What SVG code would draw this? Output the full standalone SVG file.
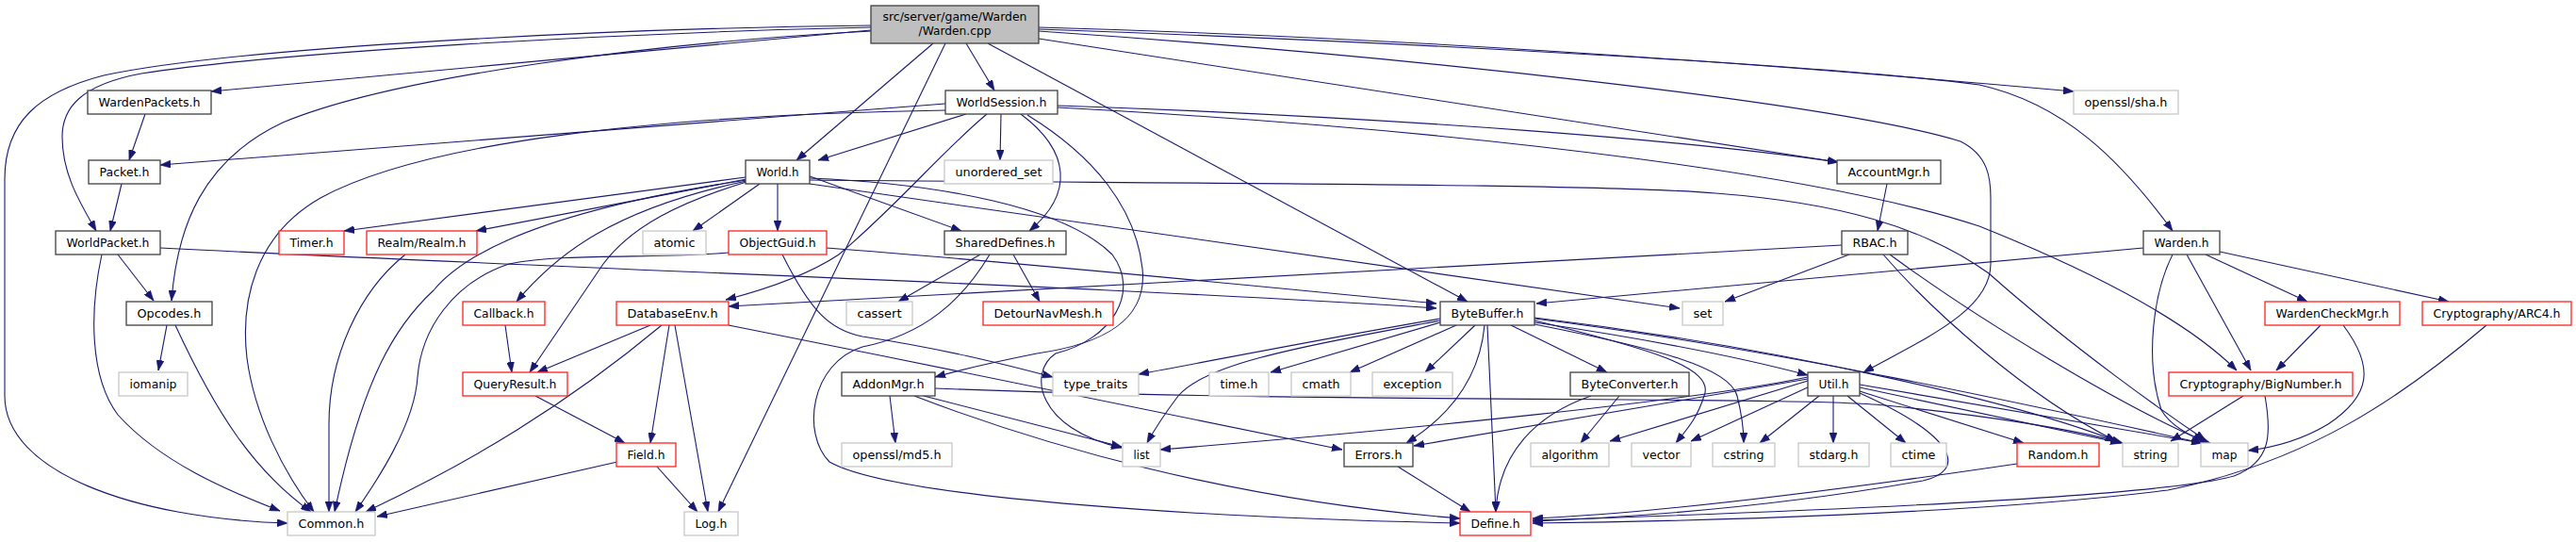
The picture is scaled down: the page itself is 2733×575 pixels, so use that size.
<svg xmlns="http://www.w3.org/2000/svg" width="2733" height="575" viewBox="0 0 2733 575">
<defs>
<marker id="a" viewBox="0 0 11 8" refX="11" refY="4" markerWidth="11" markerHeight="8" markerUnits="userSpaceOnUse" orient="auto">
<path d="M0,0 L11,4 L0,8 z" fill="#191970" stroke="#191970" stroke-width="0.6"/>
</marker>
</defs>
<style>
.e{fill:none;stroke:#191970;stroke-width:1.1;marker-end:url(#a)}
rect{fill:#fff;stroke-width:1.3}
.n rect{stroke:#404040}
.r rect{stroke:#ff2020}
.g rect{stroke:#c8c8c8}
.root rect{fill:#bfbfbf;stroke:#404040}
text{font-family:"DejaVu Sans","Liberation Sans",sans-serif;font-size:12px;fill:#000;text-anchor:middle}
</style>
<rect x="0" y="0" width="2733" height="575" fill="#fff" stroke="none"/>
<g id="edges">
<path class="e" d="M924,27 C650,30 250,50 110,80 C40,98 5,130 5,190 L5,420 C5,500 140,550 305,555"/>
<path class="e" d="M924,29 C650,35 300,55 150,78 C85,90 66,115 66,145 C66,185 85,215 102,245"/>
<path class="e" d="M924,32 L224,97"/>
<path class="e" d="M924,33 C700,45 420,80 300,130 C215,170 188,240 182,319"/>
<path class="e" d="M990,46 L845,170"/>
<path class="e" d="M1025,46 L1055,96"/>
<path class="e" d="M1003,46 L762,543"/>
<path class="e" d="M1048,46 L1557,320"/>
<path class="e" d="M1102,29 C1500,40 1900,70 2200,97"/>
<path class="e" d="M1102,31 C1500,45 1950,70 2100,90 C2190,110 2250,170 2305,245"/>
<path class="e" d="M1102,33 C1500,60 1950,110 2080,150 C2110,165 2112,190 2112,210 L2112,280 C2112,330 2040,360 1977,395"/>
<path class="e" d="M1102,41 L1950,172"/>
<path class="e" d="M154,121 L137,170"/>
<path class="e" d="M129,195 L117,245"/>
<path class="e" d="M125,270 L163,319"/>
<path class="e" d="M108,270 C95,330 95,400 125,440 C170,490 240,520 297,542"/>
<path class="e" d="M170,263 C600,285 1200,305 1524,327"/>
<path class="e" d="M177,345 L168,393"/>
<path class="e" d="M186,345 C230,440 270,500 330,543"/>
<path class="e" d="M1003,110 L170,175"/>
<path class="e" d="M1025,121 L868,170"/>
<path class="e" d="M1062,121 L1061,170"/>
<path class="e" d="M1083,121 C1135,160 1140,205 1092,245"/>
<path class="e" d="M1122,112 C1500,125 1800,150 1950,172"/>
<path class="e" d="M1122,114 C1600,140 1950,190 2100,240 C2250,300 2330,350 2373,393"/>
<path class="e" d="M1047,121 C1000,160 950,220 890,270 C860,290 820,305 770,318"/>
<path class="e" d="M1090,122 C1160,165 1205,220 1212,285 C1218,340 1170,365 1100,375 C1050,385 1020,392 992,400"/>
<path class="e" d="M1003,117 C700,122 450,150 340,210 C270,250 255,320 262,380 C270,440 300,500 333,543"/>
<path class="e" d="M791,188 L365,245"/>
<path class="e" d="M792,190 L505,245"/>
<path class="e" d="M792,191 C600,220 500,260 460,308 C420,345 385,400 355,543"/>
<path class="e" d="M792,192 C650,222 590,270 548,320"/>
<path class="e" d="M792,193 C720,215 670,240 640,280 L562,395"/>
<path class="e" d="M806,195 L735,245"/>
<path class="e" d="M825,195 L825,245"/>
<path class="e" d="M859,187 L1020,245"/>
<path class="e" d="M859,189 C1000,195 1130,220 1180,270 C1210,310 1180,360 1120,375 C1090,395 1100,455 1190,475"/>
<path class="e" d="M859,191 C1300,195 1700,195 1820,205 C1950,215 2040,240 2110,290 C2200,370 2300,440 2340,467"/>
<path class="e" d="M859,195 L1782,327"/>
<path class="e" d="M773,268 C700,275 600,268 540,280 C480,300 447,350 443,400 C440,450 400,510 377,543"/>
<path class="e" d="M877,263 C1100,280 1350,305 1524,322"/>
<path class="e" d="M830,270 C860,330 880,350 915,357 C1000,370 1060,385 1117,400"/>
<path class="e" d="M430,270 C380,310 349,380 349,450 L349,543"/>
<path class="e" d="M1040,270 L953,320"/>
<path class="e" d="M1075,270 L1103,320"/>
<path class="e" d="M1050,270 C1020,320 980,355 915,368 C860,385 850,460 880,490 C950,530 1300,550 1549,555"/>
<path class="e" d="M1954,260 L773,325"/>
<path class="e" d="M1962,270 L1830,320"/>
<path class="e" d="M1998,270 C2050,330 2150,420 2245,468"/>
<path class="e" d="M2005,270 C2100,340 2250,430 2338,468"/>
<path class="e" d="M2002,195 L1992,245"/>
<path class="e" d="M2274,263 L1630,322"/>
<path class="e" d="M2305,270 C2285,310 2275,380 2293,435 C2305,455 2330,465 2345,470"/>
<path class="e" d="M2320,270 L2388,393"/>
<path class="e" d="M2340,270 L2448,320"/>
<path class="e" d="M2355,267 L2598,320"/>
<path class="e" d="M2462,345 L2415,393"/>
<path class="e" d="M2486,345 C2520,390 2515,420 2470,450 C2440,468 2410,475 2385,478"/>
<path class="e" d="M2638,345 C2550,420 2450,490 2300,520 C2100,545 1800,553 1626,555"/>
<path class="e" d="M2380,420 L2303,468"/>
<path class="e" d="M2403,420 C2410,460 2410,490 2370,505 C2300,525 2000,540 1626,552"/>
<path class="e" d="M536,345 L543,395"/>
<path class="e" d="M568,420 L663,470"/>
<path class="e" d="M690,345 L570,395"/>
<path class="e" d="M702,345 C600,430 500,490 388,543"/>
<path class="e" d="M710,345 L690,470"/>
<path class="e" d="M716,345 L751,543"/>
<path class="e" d="M773,345 C1000,390 1250,440 1424,477"/>
<path class="e" d="M697,495 L740,543"/>
<path class="e" d="M655,490 L400,548"/>
<path class="e" d="M944,420 L950,470"/>
<path class="e" d="M980,420 L1190,474"/>
<path class="e" d="M970,420 C1100,470 1300,530 1549,550"/>
<path class="e" d="M992,412 C1400,428 1900,420 2000,430 C2100,440 2200,455 2252,470"/>
<path class="e" d="M1528,338 C1400,360 1300,380 1208,397"/>
<path class="e" d="M1528,342 L1348,395"/>
<path class="e" d="M1545,345 L1432,395"/>
<path class="e" d="M1565,345 L1512,395"/>
<path class="e" d="M1528,340 C1380,368 1280,385 1250,420 C1235,440 1225,455 1217,470"/>
<path class="e" d="M1575,345 C1570,400 1540,440 1492,470"/>
<path class="e" d="M1578,345 L1587,543"/>
<path class="e" d="M1603,345 L1705,395"/>
<path class="e" d="M1628,340 C1750,370 1820,390 1808,420 C1800,445 1790,455 1778,470"/>
<path class="e" d="M1628,342 C1750,360 1850,380 1918,398"/>
<path class="e" d="M1628,337 C1900,370 2150,430 2245,468"/>
<path class="e" d="M1628,338 C1900,372 2200,440 2336,470"/>
<path class="e" d="M1628,344 C1760,370 1835,390 1843,420 C1848,440 1850,455 1850,470"/>
<path class="e" d="M1718,420 L1677,470"/>
<path class="e" d="M1688,420 C1630,440 1590,480 1587,543"/>
<path class="e" d="M1483,495 L1560,543"/>
<path class="e" d="M1918,400 C1800,425 1500,455 1231,477"/>
<path class="e" d="M1918,402 L1500,473"/>
<path class="e" d="M1918,404 L1708,468"/>
<path class="e" d="M1920,410 L1794,468"/>
<path class="e" d="M1930,420 L1867,470"/>
<path class="e" d="M1945,420 L1945,470"/>
<path class="e" d="M1960,420 L2022,470"/>
<path class="e" d="M1973,415 L2147,470"/>
<path class="e" d="M1973,411 L2250,470"/>
<path class="e" d="M1973,408 L2336,470"/>
<path class="e" d="M1973,417 C2080,465 2085,500 2040,510 C1900,535 1750,548 1626,553"/>
<path class="e" d="M2140,492 C1950,520 1750,545 1626,550"/>
</g>
<g id="n-warden-cpp" class="root"><rect x="924" y="6" width="178" height="40"/><text x="1013" y="22" textLength="153" lengthAdjust="spacingAndGlyphs">src/server/game/Warden</text><text x="1013" y="37" textLength="77" lengthAdjust="spacingAndGlyphs">/Warden.cpp</text></g>
<g id="n-wardenpackets" class="n"><rect x="93" y="96" width="131" height="25"/><text x="158.5" y="112.5" textLength="108" lengthAdjust="spacingAndGlyphs">WardenPackets.h</text></g>
<g id="n-worldsession" class="n"><rect x="1003" y="96" width="119" height="25"/><text x="1062.5" y="112.5" textLength="96" lengthAdjust="spacingAndGlyphs">WorldSession.h</text></g>
<g id="n-openssl-sha" class="g"><rect x="2200" y="96" width="111" height="25"/><text x="2255.5" y="112.5" textLength="88" lengthAdjust="spacingAndGlyphs">openssl/sha.h</text></g>
<g id="n-packet" class="n"><rect x="94" y="170" width="76" height="25"/><text x="132" y="186.5" textLength="53" lengthAdjust="spacingAndGlyphs">Packet.h</text></g>
<g id="n-world" class="n"><rect x="791" y="170" width="68" height="25"/><text x="825" y="186.5" textLength="45" lengthAdjust="spacingAndGlyphs">World.h</text></g>
<g id="n-unordered-set" class="g"><rect x="1002" y="170" width="115" height="25"/><text x="1059.5" y="186.5" textLength="92" lengthAdjust="spacingAndGlyphs">unordered_set</text></g>
<g id="n-accountmgr" class="n"><rect x="1949" y="170" width="110" height="25"/><text x="2004" y="186.5" textLength="87" lengthAdjust="spacingAndGlyphs">AccountMgr.h</text></g>
<g id="n-worldpacket" class="n"><rect x="59" y="245" width="111" height="25"/><text x="114.5" y="261.5" textLength="88" lengthAdjust="spacingAndGlyphs">WorldPacket.h</text></g>
<g id="n-timer" class="r"><rect x="296" y="245" width="69" height="25"/><text x="330.5" y="261.5" textLength="46" lengthAdjust="spacingAndGlyphs">Timer.h</text></g>
<g id="n-realm" class="r"><rect x="389" y="245" width="117" height="25"/><text x="447.5" y="261.5" textLength="94" lengthAdjust="spacingAndGlyphs">Realm/Realm.h</text></g>
<g id="n-atomic" class="g"><rect x="682" y="245" width="67" height="25"/><text x="715.5" y="261.5" textLength="44" lengthAdjust="spacingAndGlyphs">atomic</text></g>
<g id="n-objectguid" class="r"><rect x="773" y="245" width="104" height="25"/><text x="825" y="261.5" textLength="81" lengthAdjust="spacingAndGlyphs">ObjectGuid.h</text></g>
<g id="n-shareddefines" class="n"><rect x="1002" y="245" width="129" height="25"/><text x="1066.5" y="261.5" textLength="106" lengthAdjust="spacingAndGlyphs">SharedDefines.h</text></g>
<g id="n-rbac" class="n"><rect x="1954" y="245" width="70" height="25"/><text x="1989" y="261.5" textLength="47" lengthAdjust="spacingAndGlyphs">RBAC.h</text></g>
<g id="n-warden-h" class="n"><rect x="2274" y="245" width="81" height="25"/><text x="2314.5" y="261.5" textLength="58" lengthAdjust="spacingAndGlyphs">Warden.h</text></g>
<g id="n-opcodes" class="n"><rect x="134" y="320" width="91" height="25"/><text x="179.5" y="336.5" textLength="68" lengthAdjust="spacingAndGlyphs">Opcodes.h</text></g>
<g id="n-callback" class="r"><rect x="491" y="320" width="87" height="25"/><text x="534.5" y="336.5" textLength="64" lengthAdjust="spacingAndGlyphs">Callback.h</text></g>
<g id="n-databaseenv" class="r"><rect x="654" y="320" width="119" height="25"/><text x="713.5" y="336.5" textLength="96" lengthAdjust="spacingAndGlyphs">DatabaseEnv.h</text></g>
<g id="n-cassert" class="g"><rect x="898" y="320" width="70" height="25"/><text x="933" y="336.5" textLength="47" lengthAdjust="spacingAndGlyphs">cassert</text></g>
<g id="n-detournavmesh" class="r"><rect x="1043" y="320" width="138" height="25"/><text x="1112" y="336.5" textLength="115" lengthAdjust="spacingAndGlyphs">DetourNavMesh.h</text></g>
<g id="n-bytebuffer" class="n"><rect x="1528" y="320" width="100" height="25"/><text x="1578" y="336.5" textLength="77" lengthAdjust="spacingAndGlyphs">ByteBuffer.h</text></g>
<g id="n-set" class="g"><rect x="1785" y="320" width="43" height="25"/><text x="1806.5" y="336.5" textLength="20" lengthAdjust="spacingAndGlyphs">set</text></g>
<g id="n-wardencheckmgr" class="r"><rect x="2403" y="320" width="143" height="25"/><text x="2474.5" y="336.5" textLength="120" lengthAdjust="spacingAndGlyphs">WardenCheckMgr.h</text></g>
<g id="n-arc4" class="r"><rect x="2570" y="320" width="158" height="25"/><text x="2649" y="336.5" textLength="135" lengthAdjust="spacingAndGlyphs">Cryptography/ARC4.h</text></g>
<g id="n-iomanip" class="g"><rect x="126" y="395" width="73" height="25"/><text x="162.5" y="411.5" textLength="50" lengthAdjust="spacingAndGlyphs">iomanip</text></g>
<g id="n-queryresult" class="r"><rect x="491" y="395" width="111" height="25"/><text x="546.5" y="411.5" textLength="88" lengthAdjust="spacingAndGlyphs">QueryResult.h</text></g>
<g id="n-addonmgr" class="n"><rect x="893" y="395" width="99" height="25"/><text x="942.5" y="411.5" textLength="76" lengthAdjust="spacingAndGlyphs">AddonMgr.h</text></g>
<g id="n-type-traits" class="g"><rect x="1117" y="395" width="91" height="25"/><text x="1162.5" y="411.5" textLength="68" lengthAdjust="spacingAndGlyphs">type_traits</text></g>
<g id="n-time" class="g"><rect x="1283" y="395" width="63" height="25"/><text x="1314.5" y="411.5" textLength="40" lengthAdjust="spacingAndGlyphs">time.h</text></g>
<g id="n-cmath" class="g"><rect x="1370" y="395" width="63" height="25"/><text x="1401.5" y="411.5" textLength="40" lengthAdjust="spacingAndGlyphs">cmath</text></g>
<g id="n-exception" class="g"><rect x="1456" y="395" width="85" height="25"/><text x="1498.5" y="411.5" textLength="62" lengthAdjust="spacingAndGlyphs">exception</text></g>
<g id="n-byteconverter" class="n"><rect x="1666" y="395" width="126" height="25"/><text x="1729" y="411.5" textLength="103" lengthAdjust="spacingAndGlyphs">ByteConverter.h</text></g>
<g id="n-util" class="n"><rect x="1918" y="395" width="55" height="25"/><text x="1945.5" y="411.5" textLength="32" lengthAdjust="spacingAndGlyphs">Util.h</text></g>
<g id="n-bignumber" class="r"><rect x="2301" y="395" width="195" height="25"/><text x="2398.5" y="411.5" textLength="172" lengthAdjust="spacingAndGlyphs">Cryptography/BigNumber.h</text></g>
<g id="n-field" class="r"><rect x="654" y="470" width="63" height="25"/><text x="685.5" y="486.5" textLength="40" lengthAdjust="spacingAndGlyphs">Field.h</text></g>
<g id="n-openssl-md5" class="g"><rect x="893" y="470" width="117" height="25"/><text x="951.5" y="486.5" textLength="94" lengthAdjust="spacingAndGlyphs">openssl/md5.h</text></g>
<g id="n-list" class="g"><rect x="1191" y="470" width="40" height="25"/><text x="1211" y="486.5" textLength="17" lengthAdjust="spacingAndGlyphs">list</text></g>
<g id="n-errors" class="n"><rect x="1426" y="470" width="73" height="25"/><text x="1462.5" y="486.5" textLength="50" lengthAdjust="spacingAndGlyphs">Errors.h</text></g>
<g id="n-algorithm" class="g"><rect x="1624" y="470" width="83" height="25"/><text x="1665.5" y="486.5" textLength="60" lengthAdjust="spacingAndGlyphs">algorithm</text></g>
<g id="n-vector" class="g"><rect x="1731" y="470" width="63" height="25"/><text x="1762.5" y="486.5" textLength="40" lengthAdjust="spacingAndGlyphs">vector</text></g>
<g id="n-cstring" class="g"><rect x="1817" y="470" width="66" height="25"/><text x="1850" y="486.5" textLength="43" lengthAdjust="spacingAndGlyphs">cstring</text></g>
<g id="n-stdarg" class="g"><rect x="1908" y="470" width="75" height="25"/><text x="1945.5" y="486.5" textLength="52" lengthAdjust="spacingAndGlyphs">stdarg.h</text></g>
<g id="n-ctime" class="g"><rect x="2006" y="470" width="59" height="25"/><text x="2035.5" y="486.5" textLength="36" lengthAdjust="spacingAndGlyphs">ctime</text></g>
<g id="n-random" class="r"><rect x="2140" y="470" width="87" height="25"/><text x="2183.5" y="486.5" textLength="64" lengthAdjust="spacingAndGlyphs">Random.h</text></g>
<g id="n-string" class="g"><rect x="2252" y="470" width="59" height="25"/><text x="2281.5" y="486.5" textLength="36" lengthAdjust="spacingAndGlyphs">string</text></g>
<g id="n-map" class="g"><rect x="2335" y="470" width="50" height="25"/><text x="2360" y="486.5" textLength="27" lengthAdjust="spacingAndGlyphs">map</text></g>
<g id="n-common" class="g"><rect x="305" y="543" width="93" height="25"/><text x="351.5" y="559.5" textLength="70" lengthAdjust="spacingAndGlyphs">Common.h</text></g>
<g id="n-log" class="g"><rect x="726" y="543" width="57" height="25"/><text x="754.5" y="559.5" textLength="34" lengthAdjust="spacingAndGlyphs">Log.h</text></g>
<g id="n-define" class="r"><rect x="1549" y="543" width="75" height="25"/><text x="1586.5" y="559.5" textLength="52" lengthAdjust="spacingAndGlyphs">Define.h</text></g>
</svg>
